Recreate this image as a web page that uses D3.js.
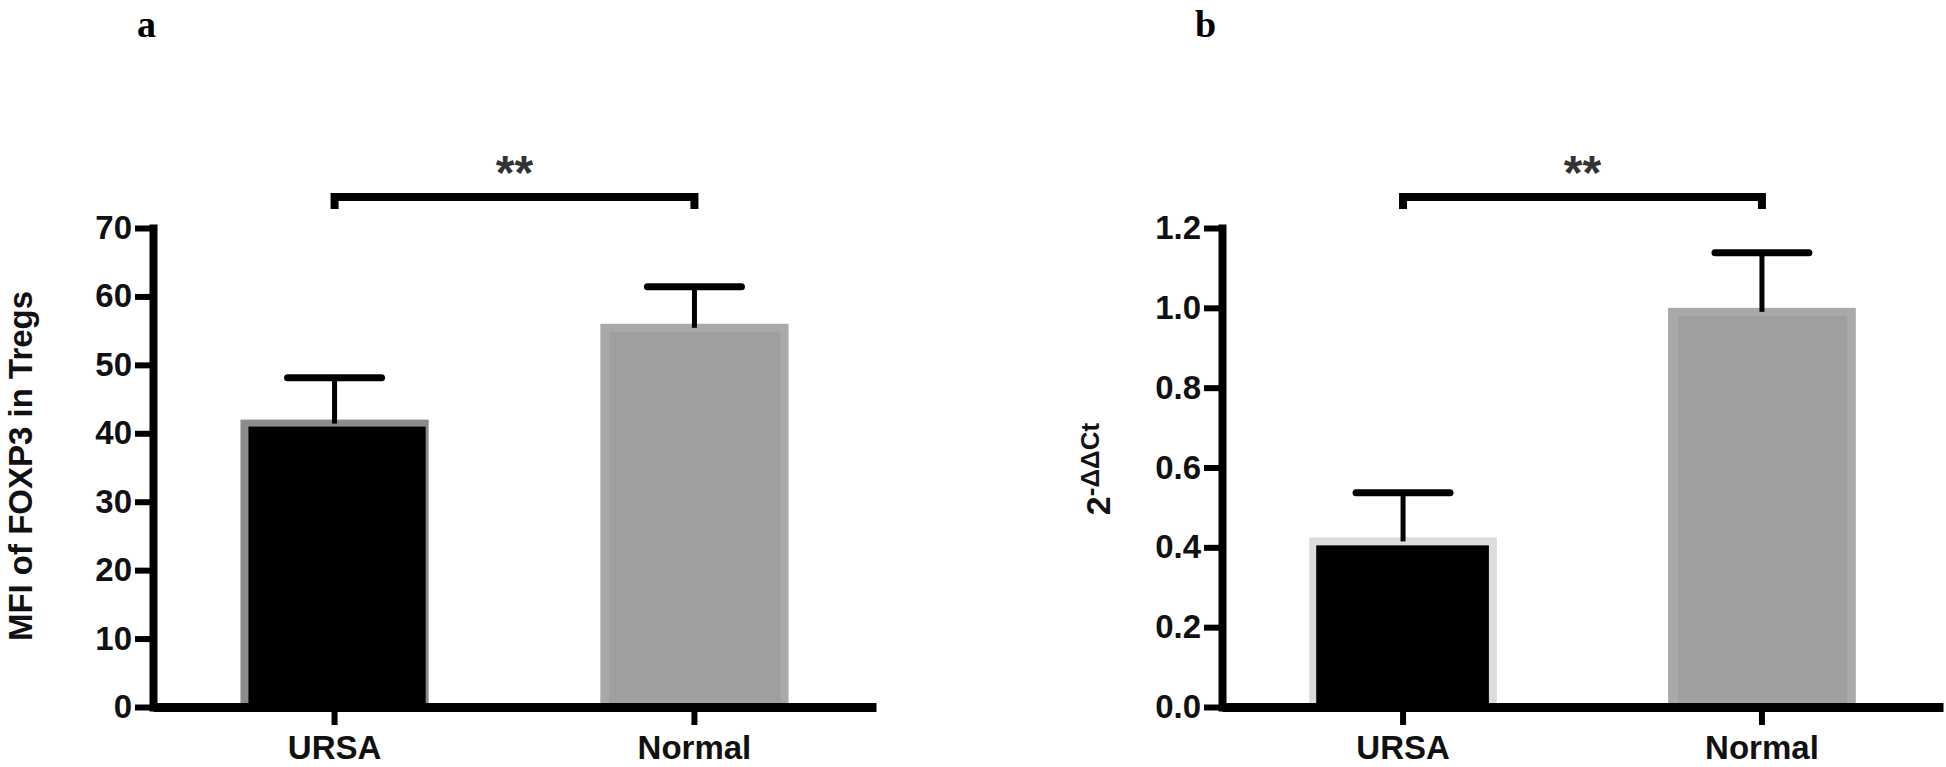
<!DOCTYPE html>
<html>
<head>
<meta charset="utf-8">
<script src="https://cdn.jsdelivr.net/npm/d3@7"></script>
<style>
  body { margin: 0; background: #fff; }
  text { font-family: "Liberation Sans", Arial, sans-serif; font-weight: bold; fill: #111; }
</style>
</head>
<body>
<div id="chart"></div>
<script>
// data
const categories = ['URSA', 'Normal'];
const foxp3Means = [42, 56];
const foxp3Errors = [6.1, 5.4];
const foxp3Ticks = [0, 10, 20, 30, 40, 50, 60, 70];
const ddctMeans = [0.425, 1.0];
const ddctErrors = [0.112, 0.138];
const ddctTicks = [0, 0.2, 0.4, 0.6, 0.8, 1.0, 1.2];

const W = 1946, H = 767;
const y0 = 707, yTop = 228;

const svg = d3.select('#chart').append('svg')
  .attr('width', W)
  .attr('height', H);

// outer rim colour, inner fill, and inset of the inner fill [left, top, right]
const barStyles = [
  [{rim: '#8c8c8c', fill: '#000', inset: [8, 7, 3]}, {rim: '#a9a9a9', fill: '#9f9f9f', inset: [9, 8, 8]}],
  [{rim: '#dcdcdc', fill: '#000', inset: [7, 8, 8]}, {rim: '#a9a9a9', fill: '#9f9f9f', inset: [10, 8, 9]}]
];

function drawPanel(p) {
  const g = svg.append('g');

  const x = d3.scaleBand()
    .domain(categories)
    .range([p.left, p.right])
    .paddingInner(0.477)
    .paddingOuter(0.243);

  const y = d3.scaleLinear()
    .domain(p.domain)
    .range([y0, yTop]);

  const data = categories.map((c, i) => ({cat: c, mean: p.means[i], err: p.errors[i], style: p.styles[i]}));

  // bars: rim rect + inner fill
  const bars = g.selectAll('.bar').data(data).enter().append('g').attr('class', 'bar');
  bars.append('rect')
    .attr('x', d => x(d.cat))
    .attr('y', d => y(d.mean))
    .attr('width', x.bandwidth())
    .attr('height', d => y0 - y(d.mean))
    .attr('fill', d => d.style.rim);
  bars.append('rect')
    .attr('x', d => x(d.cat) + d.style.inset[0])
    .attr('y', d => y(d.mean) + d.style.inset[1])
    .attr('width', d => x.bandwidth() - d.style.inset[0] - d.style.inset[2])
    .attr('height', d => y0 - y(d.mean) - d.style.inset[1])
    .attr('fill', d => d.style.fill);

  // error bars (upper only)
  const cx = d => x(d.cat) + x.bandwidth() / 2;
  bars.append('line')
    .attr('x1', cx).attr('x2', cx)
    .attr('y1', d => y(d.mean) + 4)
    .attr('y2', d => y(d.mean + d.err))
    .attr('stroke', '#000').attr('stroke-width', 5);
  bars.append('line')
    .attr('x1', d => cx(d) - 47).attr('x2', d => cx(d) + 47)
    .attr('y1', d => y(d.mean + d.err))
    .attr('y2', d => y(d.mean + d.err))
    .attr('stroke', '#000').attr('stroke-width', 7)
    .attr('stroke-linecap', 'round');

  // y axis
  const yAxis = g.append('g')
    .attr('transform', 'translate(' + p.left + ',0)')
    .call(d3.axisLeft(y).tickValues(p.ticks).tickFormat(p.fmt).tickSize(18).tickSizeOuter(0).tickPadding(3));
  yAxis.select('.domain').attr('stroke', '#000').attr('stroke-width', 8).attr('stroke-linecap', 'square');
  yAxis.selectAll('.tick line').attr('stroke', '#000').attr('stroke-width', 6);
  yAxis.selectAll('.tick text').attr('font-size', 33).attr('fill', '#111').attr('font-family', null);

  // x axis
  const xAxis = g.append('g')
    .attr('transform', 'translate(0,' + y0 + ')')
    .call(d3.axisBottom(x).tickSize(18).tickSizeOuter(0).tickPadding(11));
  xAxis.select('.domain').attr('stroke', '#000').attr('stroke-width', 9);
  xAxis.selectAll('.tick line').attr('stroke', '#000').attr('stroke-width', 6);
  xAxis.selectAll('.tick text').attr('font-size', 33).attr('fill', '#111').attr('font-family', null);

  // significance bracket
  const bx1 = x(categories[0]) + x.bandwidth() / 2;
  const bx2 = x(categories[1]) + x.bandwidth() / 2;
  g.append('path')
    .attr('d', 'M' + bx1 + ',209V197H' + bx2 + 'V209')
    .attr('fill', 'none')
    .attr('stroke', '#000')
    .attr('stroke-width', 8);
  g.append('text')
    .attr('x', (bx1 + bx2) / 2)
    .attr('y', 189)
    .attr('text-anchor', 'middle')
    .attr('font-size', 48)
    .style('fill', '#333')
    .text('**');

  // panel letter
  g.append('text')
    .attr('x', p.letterX)
    .attr('y', 37)
    .style('font-family', '"Liberation Serif", "Times New Roman", serif')
    .attr('font-size', 38)
    .style('fill', '#000')
    .text(p.letter);

  return g;
}

const ga = drawPanel({
  left: 153, right: 876, domain: [0, 70], means: foxp3Means, errors: foxp3Errors,
  ticks: foxp3Ticks, fmt: d3.format('d'), styles: barStyles[0], letter: 'a', letterX: 137
});
ga.append('text')
  .attr('transform', 'translate(32,466) rotate(-90)')
  .attr('text-anchor', 'middle')
  .attr('font-size', 33)
  .text('MFI of FOXP3 in Tregs');

const gb = drawPanel({
  left: 1222, right: 1943, domain: [0, 1.2], means: ddctMeans, errors: ddctErrors,
  ticks: ddctTicks, fmt: d3.format('.1f'), styles: barStyles[1], letter: 'b', letterX: 1195
});
const yt = gb.append('text')
  .attr('transform', 'translate(1110,469) rotate(-90)')
  .attr('text-anchor', 'middle')
  .attr('font-size', 34);
yt.append('tspan').text('2');
yt.append('tspan').attr('font-size', 26).attr('dy', -11).text('-ΔΔCt');
</script>
</body>
</html>
